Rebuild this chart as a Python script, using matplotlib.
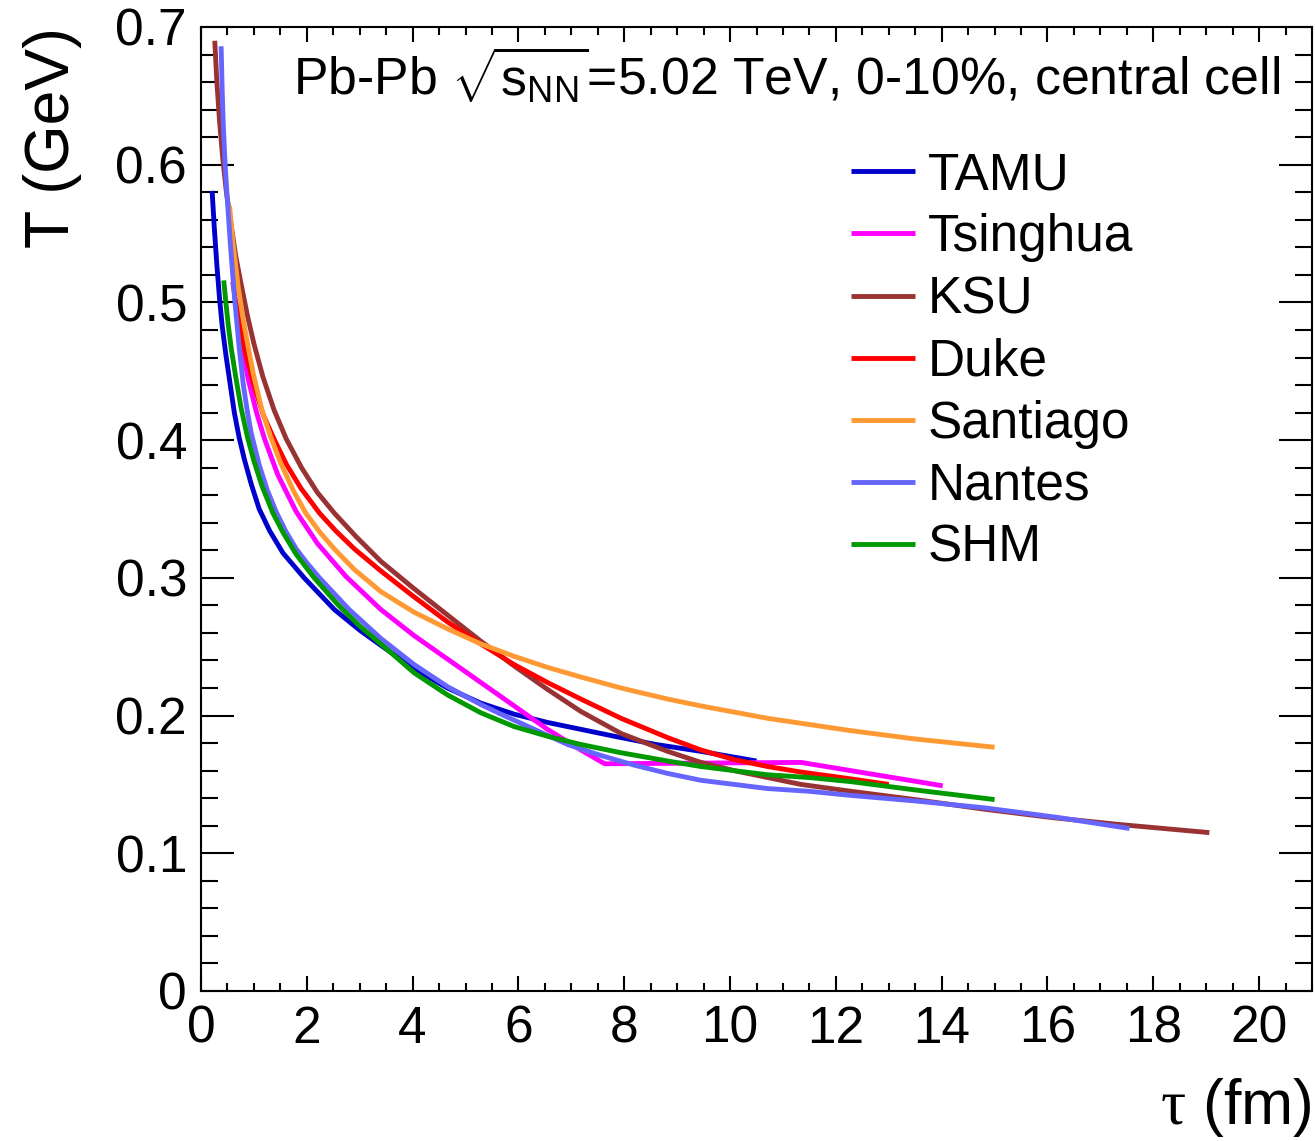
import matplotlib
matplotlib.use("Agg")
import matplotlib.pyplot as plt
from matplotlib.ticker import MultipleLocator, FuncFormatter

plt.rcParams['font.family'] = ['Liberation Sans', 'DejaVu Sans']
plt.rcParams['mathtext.fontset'] = 'custom'
plt.rcParams['mathtext.rm'] = 'Liberation Sans'
plt.rcParams['mathtext.it'] = 'Liberation Serif'
plt.rcParams['mathtext.bf'] = 'Liberation Sans:bold'

# medium temperature in the central cell vs proper time
tamu_tau = [0.21, 0.25, 0.30, 0.35, 0.40, 0.47, 0.55, 0.63, 0.72, 0.82, 0.95, 1.10, 1.30, 1.55,
            1.95, 2.52, 3.0, 3.40, 4.03, 4.66, 5.29, 5.92, 6.55, 7.18, 7.81, 8.60, 9.45, 10.5]
tamu_T = [0.581, 0.555, 0.527, 0.503, 0.483, 0.462, 0.441, 0.420, 0.402, 0.386, 0.368, 0.350, 0.334, 0.318,
          0.300, 0.277, 0.262, 0.251, 0.234, 0.220, 0.209, 0.201, 0.195, 0.190, 0.185, 0.179, 0.174, 0.167]

tsinghua_tau = [0.68, 0.79, 0.90, 1.05, 1.20, 1.45, 1.80, 2.20, 2.74, 3.40, 4.03, 4.66, 5.29, 5.92,
                6.55, 7.18, 7.63, 11.34, 14.02]
tsinghua_T = [0.500, 0.464, 0.443, 0.420, 0.401, 0.375, 0.348, 0.325, 0.301, 0.277, 0.258, 0.241, 0.224, 0.207,
              0.190, 0.175, 0.165, 0.166, 0.149]

ksu_tau = [0.26, 0.30, 0.35, 0.41, 0.48, 0.57, 0.66, 0.76, 0.88, 1.0, 1.17, 1.38, 1.61, 1.90, 2.20,
           2.52, 2.93, 3.40, 4.0, 4.66, 5.29, 5.92, 6.55, 7.18, 7.94, 8.82, 9.45, 10.08, 10.71, 11.34,
           12.29, 13.5, 14.81, 16.07, 17.33, 19.06]
ksu_T = [0.690, 0.660, 0.632, 0.605, 0.580, 0.556, 0.533, 0.513, 0.490, 0.470, 0.446, 0.422, 0.401, 0.380, 0.362,
         0.347, 0.330, 0.312, 0.293, 0.273, 0.254, 0.236, 0.219, 0.203, 0.187, 0.174, 0.166, 0.160, 0.155, 0.150,
         0.145, 0.139, 0.132, 0.126, 0.121, 0.115]

duke_tau = [0.60, 0.70, 0.85, 1.0, 1.18, 1.39, 1.62, 1.89, 2.24, 2.55, 2.90, 3.40, 4.0, 4.66, 5.29,
            5.92, 6.55, 7.18, 7.94, 8.82, 9.45, 10.08, 10.71, 11.34, 12.29, 13.0]
duke_T = [0.515, 0.490, 0.462, 0.440, 0.418, 0.400, 0.382, 0.365, 0.347, 0.334, 0.321, 0.305, 0.287, 0.268, 0.252,
          0.237, 0.224, 0.212, 0.198, 0.184, 0.175, 0.168, 0.163, 0.159, 0.154, 0.150]

santiago_tau = [0.54, 0.60, 0.70, 0.80, 0.88, 0.99, 1.15, 1.32, 1.51, 1.75, 1.98, 2.25, 2.52, 2.90,
                3.40, 4.03, 4.66, 5.29, 5.92, 6.55, 7.18, 7.94, 8.82, 9.45, 10.71, 12.29, 13.5, 15.0]
santiago_T = [0.570, 0.545, 0.512, 0.487, 0.470, 0.448, 0.422, 0.402, 0.383, 0.363, 0.347, 0.333, 0.321, 0.306,
              0.290, 0.275, 0.263, 0.252, 0.243, 0.235, 0.228, 0.220, 0.212, 0.207, 0.198, 0.189, 0.183, 0.177]

nantes_tau = [0.38, 0.40, 0.42, 0.45, 0.48, 0.55, 0.63, 0.72, 0.80, 0.88, 0.95, 1.10, 1.25, 1.42,
              1.60, 1.80, 2.0, 2.24, 2.80, 3.40, 4.03, 4.66, 5.29, 5.67, 6.30, 6.93, 7.56, 8.19, 8.82,
              9.45, 10.08, 10.71, 11.5, 12.29, 13.5, 14.81, 16.2, 17.55]
nantes_T = [0.686, 0.655, 0.630, 0.605, 0.585, 0.545, 0.505, 0.468, 0.440, 0.420, 0.405, 0.382, 0.364, 0.348,
            0.334, 0.321, 0.311, 0.300, 0.277, 0.256, 0.237, 0.221, 0.208, 0.201, 0.190, 0.179, 0.171, 0.164, 0.158,
            0.153, 0.150, 0.147, 0.145, 0.142, 0.138, 0.133, 0.126, 0.118]

shm_tau = [0.43, 0.47, 0.52, 0.57, 0.66, 0.76, 0.88, 1.0, 1.15, 1.36, 1.55, 1.80, 2.14, 2.60, 3.0,
           3.40, 4.03, 4.66, 5.29, 5.92, 6.55, 7.18, 7.94, 8.82, 9.45, 10.08, 10.71, 11.5, 12.29, 13.5, 15.0]
shm_T = [0.516, 0.500, 0.482, 0.467, 0.445, 0.423, 0.402, 0.385, 0.367, 0.347, 0.333, 0.317, 0.300, 0.280, 0.265,
         0.252, 0.231, 0.215, 0.202, 0.192, 0.185, 0.179, 0.173, 0.167, 0.163, 0.160, 0.157, 0.155, 0.152, 0.146, 0.139]

models = [
    ('TAMU', tamu_tau, tamu_T, '#0000cc'),
    ('Tsinghua', tsinghua_tau, tsinghua_T, '#ff00ff'),
    ('KSU', ksu_tau, ksu_T, '#993333'),
    ('Duke', duke_tau, duke_T, '#ff0000'),
    ('Santiago', santiago_tau, santiago_T, '#ff9933'),
    ('Nantes', nantes_tau, nantes_T, '#6666ff'),
    ('SHM', shm_tau, shm_T, '#009900'),
]

fig = plt.figure(figsize=(13.15, 11.41), dpi=100)
ax = fig.add_axes([201 / 1315, 150 / 1141, 1111 / 1315, 964 / 1141])

handles = []
for name, tau, T, col in models:
    ln, = ax.plot(tau, T, color=col, lw=3.5, solid_capstyle='butt', solid_joinstyle='round', label=name)
    handles.append(ln)

ax.set_xlim(0, 21)
ax.set_ylim(0, 0.7)

ax.xaxis.set_major_locator(MultipleLocator(2))
ax.xaxis.set_minor_locator(MultipleLocator(0.5))
ax.yaxis.set_major_locator(MultipleLocator(0.1))
ax.yaxis.set_minor_locator(MultipleLocator(0.02))
fmt = FuncFormatter(lambda v, p: f'{v:g}')
ax.xaxis.set_major_formatter(fmt)
ax.yaxis.set_major_formatter(fmt)

ax.tick_params(which='both', direction='in', top=True, right=True, width=1.5, labelsize=37)
ax.tick_params(axis='x', which='major', length=11, pad=10)
ax.tick_params(axis='x', which='minor', length=6)
ax.tick_params(axis='y', which='major', length=24, pad=10)
ax.tick_params(axis='y', which='minor', length=12)
for sp in ax.spines.values():
    sp.set_linewidth(1.5)

ax.set_xlabel(r'$\tau$ (fm)', fontsize=45, loc='right', labelpad=16)
ax.set_ylabel('T (GeV)', fontsize=45, loc='top', labelpad=24)

ax.text(0.971, 0.929, r'Pb-Pb $\sqrt{\mathrm{s}_{\mathrm{NN}}}$=5.02 TeV, 0-10%, central cell',
        transform=ax.transAxes, ha='right', va='baseline', fontsize=37.3)

ax.legend(handles=handles, loc='upper left', bbox_to_anchor=(0.585, 0.871), frameon=False,
          fontsize=37, handlelength=1.25, handletextpad=0.25, labelspacing=0.255,
          borderaxespad=0, borderpad=0)

fig.savefig('out.png', dpi=100)
